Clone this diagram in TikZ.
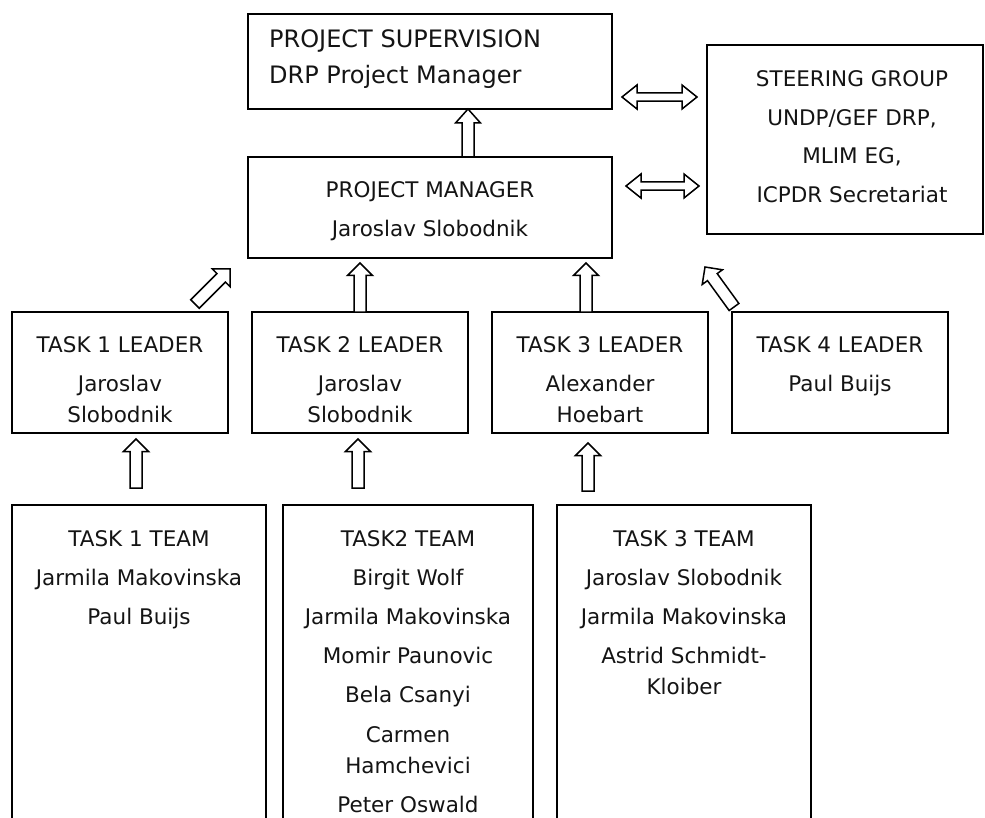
\documentclass[tikz,border=0pt]{standalone}
\usepackage{fontspec}
\setmainfont{DejaVu Sans}
\usetikzlibrary{calc}
\tikzset{
  box/.style={draw, line width=2pt, rectangle, inner sep=0pt, outer sep=0pt},
  txt/.style={inner sep=0pt, anchor=base, font=\fontsize{21.5}{31}\selectfont, text=black!92},
  bigtxt/.style={inner sep=0pt, anchor=base west, font=\fontsize{24}{36}\selectfont, text=black!92},
  arrowline/.style={draw, fill=white, line width=1.5pt, line join=miter},
}
% block arrow: #1 tail, #2 tip, #3 half shaft, #4 half head, #5 head length, #6 name
\newcommand\barrow[6]{%
  \coordinate (#6h) at ($(#2)!#5!(#1)$);
  \draw[arrowline] ($(#1)!#3!90:(#2)$) -- ($(#6h)!#3!-90:(#1)$) -- ($(#6h)!#4!-90:(#1)$) -- (#2)
     -- ($(#6h)!#4!90:(#1)$) -- ($(#6h)!#3!90:(#1)$) -- ($(#1)!#3!-90:(#2)$) -- cycle;}
% double block arrow
\newcommand\dbarrow[6]{%
  \coordinate (#6a) at ($(#1)!#5!(#2)$);
  \coordinate (#6b) at ($(#2)!#5!(#1)$);
  \draw[arrowline] (#1) -- ($(#6a)!#4!90:(#2)$) -- ($(#6a)!#3!90:(#2)$) -- ($(#6b)!#3!-90:(#1)$)
     -- ($(#6b)!#4!-90:(#1)$) -- (#2) -- ($(#6b)!#4!90:(#1)$) -- ($(#6b)!#3!90:(#1)$)
     -- ($(#6a)!#3!-90:(#2)$) -- ($(#6a)!#4!-90:(#2)$) -- cycle;}
\newcommand\tline[4]{\node[txt] (#1) at (#2,#3) {#4};}

\begin{document}
\begin{tikzpicture}[x=1pt,y=-1pt]
\useasboundingbox (0,0) rectangle (985,818);
\clip (0,0) rectangle (985,818);

% boxes
\node[box, minimum width=364pt, minimum height=95pt]  (sup)   at (430,61.5) {};
\node[box, minimum width=276pt, minimum height=189pt] (steer) at (845,139.5) {};
\node[box, minimum width=364pt, minimum height=101pt] (pm)    at (430,207.5) {};
\node[box, minimum width=216pt, minimum height=121pt] (L1) at (120,372.5) {};
\node[box, minimum width=216pt, minimum height=121pt] (L2) at (360,372.5) {};
\node[box, minimum width=216pt, minimum height=121pt] (L3) at (600,372.5) {};
\node[box, minimum width=216pt, minimum height=121pt] (L4) at (840,372.5) {};
\node[box, minimum width=254pt, minimum height=335pt] (T1) at (139,672.5) {};
\node[box, minimum width=250pt, minimum height=335pt] (T2) at (408,672.5) {};
\node[box, minimum width=254pt, minimum height=335pt] (T3) at (684,672.5) {};

% texts
\node[bigtxt] (sup1) at (269,48) {PROJECT SUPERVISION};
\node[bigtxt] (sup2) at (269,84) {DRP Project Manager};
\tline{pm1}{430}{198}{PROJECT MANAGER}
\tline{pm2}{430}{237}{Jaroslav Slobodnik}
\tline{st1}{852}{87}{STEERING GROUP}
\tline{st2}{852}{126}{UNDP/GEF DRP,}
\tline{st3}{852}{164}{MLIM EG,}
\tline{st4}{852}{203}{ICPDR Secretariat}
\tline{l1a}{120}{352}{TASK 1 LEADER}
\tline{l1b}{120}{391}{Jaroslav}
\tline{l1c}{120}{422}{Slobodnik}
\tline{l2a}{360}{352}{TASK 2 LEADER}
\tline{l2b}{360}{391}{Jaroslav}
\tline{l2c}{360}{422}{Slobodnik}
\tline{l3a}{600}{352}{TASK 3 LEADER}
\tline{l3b}{600}{391}{Alexander}
\tline{l3c}{600}{422}{Hoebart}
\tline{l4a}{840}{352}{TASK 4 LEADER}
\tline{l4b}{840}{391}{Paul Buijs}
\tline{t1a}{139}{546}{TASK 1 TEAM}
\tline{t1b}{139}{585}{Jarmila Makovinska}
\tline{t1c}{139}{624}{Paul Buijs}
\tline{t2a}{408}{546}{TASK2 TEAM}
\tline{t2b}{408}{585}{Birgit Wolf}
\tline{t2c}{408}{624}{Jarmila Makovinska}
\tline{t2d}{408}{663}{Momir Paunovic}
\tline{t2e}{408}{702}{Bela Csanyi}
\tline{t2f}{408}{742}{Carmen}
\tline{t2g}{408}{773}{Hamchevici}
\tline{t2h}{408}{812}{Peter Oswald}
\tline{t3a}{684}{546}{TASK 3 TEAM}
\tline{t3b}{684}{585}{Jaroslav Slobodnik}
\tline{t3c}{684}{624}{Jarmila Makovinska}
\tline{t3d}{684}{663}{Astrid Schmidt-}
\tline{t3e}{684}{694}{Kloiber}

% connector end points
\coordinate (a0s) at (pm.north -| 468,0);
\coordinate (a0e) at (sup.south -| 468,0);
\coordinate (d1s) at (622,97);
\coordinate (d1e) at (697,97);
\coordinate (d2s) at (626,186);
\coordinate (d2e) at (699,186);
\coordinate (u1s) at (195,304);
\coordinate (u1e) at (230,269);
\coordinate (u2s) at (L2.north -| 360,0);
\coordinate (u2e) at (360,263);
\coordinate (u3s) at (L3.north -| 586,0);
\coordinate (u3e) at (586,263);
\coordinate (u4s) at (734,307);
\coordinate (u4e) at (705,267);
\coordinate (b1s) at (136,488);
\coordinate (b1e) at (136,439);
\coordinate (b2s) at (358,488);
\coordinate (b2e) at (358,439);
\coordinate (b3s) at (588,491);
\coordinate (b3e) at (588,443);

% block arrows
\barrow{a0s}{a0e}{6pt}{12.5pt}{14pt}{a0}
\dbarrow{d1s}{d1e}{4.2pt}{12pt}{15pt}{d1}
\dbarrow{d2s}{d2e}{4.2pt}{12pt}{15pt}{d2}
\barrow{u1s}{u1e}{6pt}{12.5pt}{12.5pt}{u1}
\barrow{u2s}{u2e}{6pt}{12.5pt}{12.5pt}{u2}
\barrow{u3s}{u3e}{6pt}{12.5pt}{12.5pt}{u3}
\barrow{u4s}{u4e}{6pt}{12.5pt}{12.5pt}{u4}
\barrow{b1s}{b1e}{6pt}{12.5pt}{12.5pt}{b1}
\barrow{b2s}{b2e}{6pt}{12.5pt}{12.5pt}{b2}
\barrow{b3s}{b3e}{6pt}{12.5pt}{12.5pt}{b3}
\end{tikzpicture}
\end{document}
